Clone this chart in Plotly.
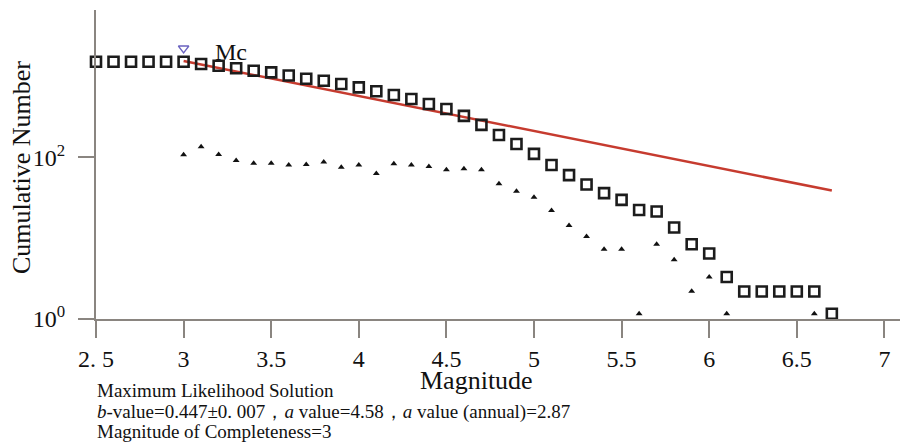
import plotly.graph_objects as go

# ---- data ----
mag_cum = [2.5, 2.6, 2.7, 2.8, 2.9, 3.0, 3.1, 3.2, 3.3, 3.4, 3.5, 3.6, 3.7, 3.8, 3.9,
           4.0, 4.1, 4.2, 4.3, 4.4, 4.5, 4.6, 4.7, 4.8, 4.9, 5.0, 5.1, 5.2, 5.3, 5.4,
           5.5, 5.6, 5.7, 5.8, 5.9, 6.0, 6.1, 6.2, 6.3, 6.4, 6.5, 6.6, 6.7]
cum_number = [1514, 1514, 1514, 1514, 1514, 1514, 1419, 1352, 1256, 1172, 1120, 1023, 933, 883, 803,
              731, 653, 588, 525, 455, 394, 324, 251, 188, 146, 110, 80, 60, 46, 36,
              29.7, 22.3, 21.3, 13.5, 8.4, 6.45, 3.3, 2.19, 2.19, 2.19, 2.19, 2.19, 1.16]

mag_non = [3.0, 3.1, 3.2, 3.3, 3.4, 3.5, 3.6, 3.7, 3.8, 3.9, 4.0, 4.1, 4.2, 4.3, 4.4,
           4.5, 4.6, 4.7, 4.8, 4.9, 5.0, 5.1, 5.2, 5.3, 5.4, 5.5, 5.6, 5.7, 5.8, 5.9,
           6.0, 6.1, 6.6]
non_cum_number = [107, 135, 108, 91, 84, 84, 80, 81, 87, 75, 80, 63, 83, 80, 77,
                  70, 72, 70, 47, 38, 32, 22, 14.3, 10.5, 7.3, 7.3, 1.16, 8.4, 5.4, 2.2,
                  3.3, 1.16, 1.16]

fit_mag = [3.0, 6.7]
fit_number = [1549, 38.7]

mc_mag = [3.0]
mc_number = [2218]

x_tickvals = [2.5, 3, 3.5, 4, 4.5, 5, 5.5, 6, 6.5, 7]
x_ticktext = ["2. 5", "3", "3.5", "4", "4.5", "5", "5.5", "6", "6.5", "7"]
y_tickvals = [1, 100]
y_ticktext = ["10<sup>0</sup>", "10<sup>2</sup>"]

# ---- layout geometry (page pixels; the page body adds an 8px margin) ----
OFF = 8
W, H = 908 - OFF, 442 - OFF
L, R, T, B = 96 - OFF, 0, 10 - OFF, 442 - 319
PW, PH = W - L - R, H - T - B

def px(xp):
    return (xp - OFF - L) / PW

def py(yp):
    return (H - B - (yp - OFF)) / PH

SERIF = "Liberation Serif, Times New Roman, serif"
AXIS_COL = "#8a8580"
TXT = "#111111"

fig = go.Figure()

fig.add_trace(go.Scatter(
    x=fit_mag, y=fit_number, mode="lines",
    line=dict(color="#c63b2f", width=2.5), showlegend=False, cliponaxis=False))

fig.add_trace(go.Scatter(
    x=mag_cum, y=cum_number, mode="markers",
    marker=dict(symbol="square-open", size=10, color="#1c1c1c", line=dict(width=2.6, color="#1c1c1c")),
    showlegend=False, cliponaxis=False))

fig.add_trace(go.Scatter(
    x=mag_non, y=non_cum_number, mode="markers",
    marker=dict(symbol="triangle-up", size=6, color="#111111"),
    showlegend=False, cliponaxis=False))

fig.add_trace(go.Scatter(
    x=mc_mag, y=mc_number, mode="markers",
    marker=dict(symbol="triangle-down-open", size=9, color="#6b63c0", line=dict(width=1.5, color="#6b63c0")),
    showlegend=False, cliponaxis=False))

fig.update_xaxes(
    range=[2.5, 2.5 + PW / 175.2], showgrid=False, zeroline=False,
    showline=True, linecolor=AXIS_COL, linewidth=2,
    ticks="outside", ticklen=17, tickwidth=2, tickcolor=AXIS_COL,
    tickvals=x_tickvals, ticktext=x_ticktext,
    tickfont=dict(family=SERIF, size=24, color=TXT))

fig.update_yaxes(
    type="log", range=[0, 3.82], showgrid=False, zeroline=False,
    showline=True, linecolor=AXIS_COL, linewidth=2,
    ticks="outside", ticklen=16, tickwidth=2, tickcolor=AXIS_COL,
    tickvals=y_tickvals, ticktext=y_ticktext, ticklabelstandoff=8,
    tickfont=dict(family=SERIF, size=24, color=TXT))

annotations = [
    dict(text="Mc", x=3.27, y=3.30, xref="x", yref="y", showarrow=False,
         font=dict(family=SERIF, size=24, color=TXT), xanchor="center", yanchor="middle"),
    dict(text="Cumulative Number", x=px(22), y=py(168), xref="paper", yref="paper",
         textangle=-90, showarrow=False, font=dict(family=SERIF, size=26, color=TXT),
         xanchor="center", yanchor="middle"),
    dict(text="Magnitude", x=px(476), y=py(380), xref="paper", yref="paper", showarrow=False,
         font=dict(family=SERIF, size=26, color=TXT), xanchor="center", yanchor="middle"),
    dict(text="Maximum Likelihood Solution", x=px(95), y=py(391), xref="paper", yref="paper",
         showarrow=False, font=dict(family=SERIF, size=19, color=TXT),
         xanchor="left", yanchor="middle"),
    dict(text="<i>b</i>-value=0.447\u00b10. 007\uff0c<i>a</i> value=4.58\uff0c<i>a</i> value (annual)=2.87",
         x=px(95), y=py(412), xref="paper", yref="paper",
         showarrow=False, font=dict(family=SERIF, size=19, color=TXT),
         xanchor="left", yanchor="middle"),
    dict(text="Magnitude of Completeness=3", x=px(95), y=py(431), xref="paper", yref="paper",
         showarrow=False, font=dict(family=SERIF, size=19, color=TXT),
         xanchor="left", yanchor="middle"),
]

fig.update_layout(
    width=W, height=H, margin=dict(l=L, r=R, t=T, b=B, autoexpand=False),
    paper_bgcolor="white", plot_bgcolor="white",
    annotations=annotations, showlegend=False)

fig.write_html("out.html")
